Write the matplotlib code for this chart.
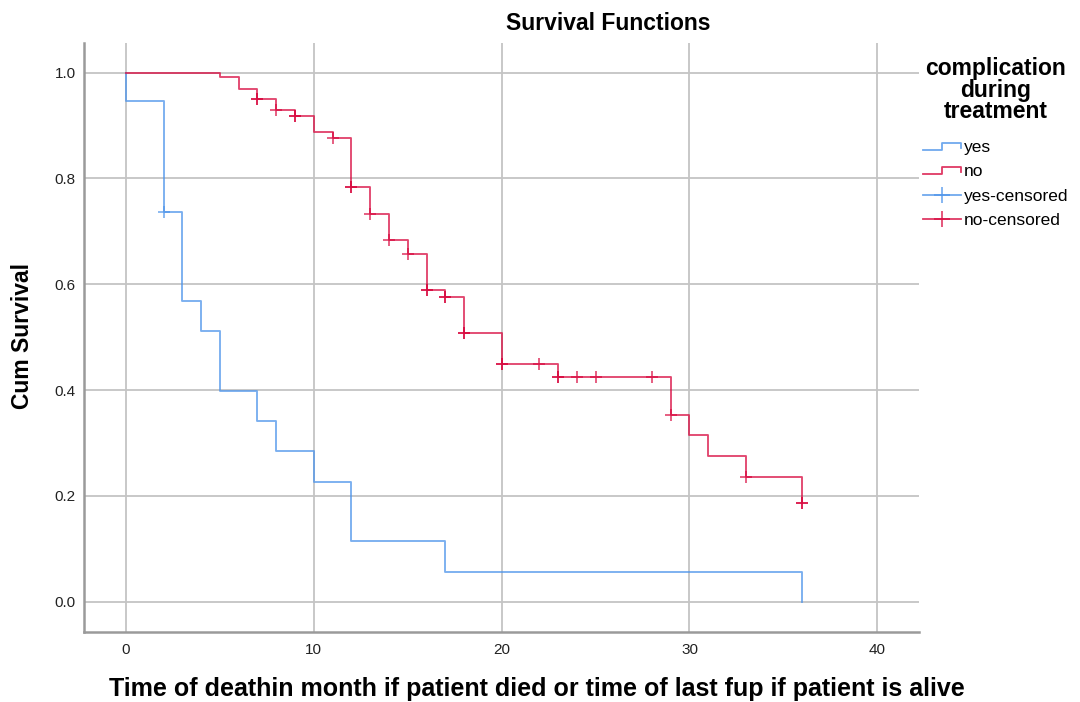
import numpy as np
import matplotlib
matplotlib.use("Agg")
import matplotlib.pyplot as plt
from matplotlib.lines import Line2D
from matplotlib.legend_handler import HandlerBase, HandlerLine2D

plt.rcParams['font.family'] = ['Liberation Sans', 'DejaVu Sans']

# ---- data ----
groups = ["yes", "no"]

yes_times = [0, 0, 2, 3, 4, 5, 7, 8, 10, 12, 17, 36]
yes_surv = [1.0, 0.947, 0.737, 0.568, 0.511, 0.398, 0.341, 0.284, 0.227, 0.114, 0.057, 0.0]
yes_cens_times = [2]
yes_cens_counts = [1]

no_times = [0, 5, 6, 7, 8, 9, 10, 11, 12, 13, 14, 15, 16, 17, 18, 20, 23, 29, 30, 31, 33, 36]
no_surv = [1.0, 0.991, 0.969, 0.950, 0.930, 0.919, 0.887, 0.876, 0.784, 0.733, 0.683, 0.658,
           0.590, 0.576, 0.507, 0.449, 0.424, 0.353, 0.315, 0.275, 0.235, 0.187]
no_cens_times = [7, 8, 9, 11, 12, 13, 14, 15, 16, 17, 18, 20, 22, 23, 24, 25, 28, 29, 33, 36]
no_cens_counts = [2, 1, 2, 1, 2, 1, 1, 1, 2, 2, 2, 2, 1, 2, 1, 1, 1, 1, 1, 2]

x_ticks = [0, 10, 20, 30, 40]
y_ticks = [0.0, 0.2, 0.4, 0.6, 0.8, 1.0]

title = "Survival Functions"
x_label = "Time of deathin month if patient died or time of last fup if patient is alive"
y_label = "Cum Survival"
legend_title = "complication\nduring\ntreatment"

BLUE = "#4d94ea"
RED = "#d8083e"

W, H = 1080, 702
fig = plt.figure(figsize=(W / 100, H / 100), dpi=100)
L, R, T, B = 84.3, 919, 42.7, 631.7
ax = fig.add_axes([L / W, 1 - B / H, (R - L) / W, (B - T) / H])

ax.set_xlim(-2.22, 42.22)
ax.set_ylim(-0.0566, 1.0566)
ax.set_xticks(x_ticks)
ax.set_yticks(y_ticks)
ax.set_xticklabels([str(v) for v in x_ticks])
ax.set_yticklabels([f"{v:.1f}" for v in y_ticks])
ax.tick_params(axis='both', length=0, labelsize=11, labelcolor='#222222')
ax.tick_params(axis='x', pad=8)
ax.tick_params(axis='y', pad=6)
ax.grid(True, color='#c4c4c4', lw=1.3)
ax.set_axisbelow(True)
for s in ['top', 'right']:
    ax.spines[s].set_visible(False)
for s in ['left', 'bottom']:
    ax.spines[s].set_color('#9a9a9a')
    ax.spines[s].set_linewidth(1.8)


def draw(times, surv, ctimes, ccounts, color):
    ax.step(times, surv, where='post', color=color, lw=1.35, alpha=0.75, zorder=3)
    t = np.asarray(times)
    s = np.asarray(surv)
    for ct, cn in zip(ctimes, ccounts):
        idx = np.searchsorted(t, ct, side='right') - 1
        for _ in range(cn):
            ax.plot([ct], [s[idx]], marker='+', ms=9, mew=1.3, color=color,
                    alpha=0.7, ls='none', zorder=4)


draw(yes_times, yes_surv, yes_cens_times, yes_cens_counts, BLUE)
draw(no_times, no_surv, no_cens_times, no_cens_counts, RED)


class StepHandler(HandlerBase):
    def create_artists(self, legend, orig_handle, xdescent, ydescent, width, height,
                       fontsize, trans):
        x0, y0 = -xdescent, -ydescent
        xm = x0 + 0.5 * width
        xs = [x0, xm, xm, x0 + width, x0 + width]
        lo, hi = y0 + 0.2 * height, y0 + 0.75 * height
        ys = [lo, lo, hi, hi, y0 + 0.35 * height]
        ln = Line2D(xs, ys, color=orig_handle.get_color(), lw=1.3, alpha=0.8)
        ln.set_transform(trans)
        return [ln]


h_yes = Line2D([], [], color=BLUE)
h_no = Line2D([], [], color=RED)
h_yc = Line2D([], [], color=BLUE, marker='+', ms=11, mew=1.2, lw=1.3, alpha=0.8)
h_nc = Line2D([], [], color=RED, marker='+', ms=11, mew=1.2, lw=1.3, alpha=0.8)

leg = fig.legend([h_yes, h_no, h_yc, h_nc],
                 [f"{groups[0]}", f"{groups[1]}", f"{groups[0]}-censored", f"{groups[1]}-censored"],
                 handler_map={h_yes: StepHandler(), h_no: StepHandler(),
                              h_yc: HandlerLine2D(numpoints=1), h_nc: HandlerLine2D(numpoints=1)},
                 loc='upper left', bbox_to_anchor=(923 / W, 1 - 57 / H),
                 frameon=False, fontsize=12.5, title=legend_title,
                 title_fontproperties={'weight': 'bold', 'size': 16.5},
                 handlelength=2.2, handletextpad=0.15, labelspacing=0.53,
                 borderpad=0, borderaxespad=0)
leg.get_title().set_linespacing(0.92)
leg.get_title().set_ha('center')
leg._legend_box.sep = 12

fig.text(608 / W, 1 - 23.5 / H, title, ha='center', va='center', fontsize=16.5, fontweight='bold')
fig.text(537 / W, 1 - 696 / H, x_label, ha='center', va='baseline', fontsize=18, fontweight='bold')
fig.text(23 / W, 1 - 336 / H, y_label, ha='center', va='center', rotation=90,
         fontsize=16.5, fontweight='bold')

fig.savefig("out.png", dpi=100)
